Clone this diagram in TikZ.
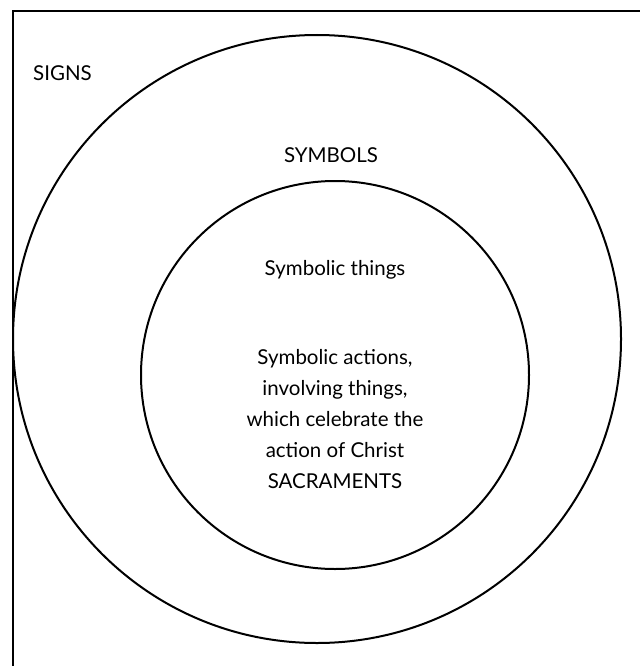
\documentclass[tikz,border=0pt]{standalone}
\usepackage{fontspec}
\setmainfont{Lato}
\begin{document}
\begin{tikzpicture}[x=1pt,y=-1pt,
  ring/.style={draw=black,line width=2pt},
  lbl/.style={font=\fontsize{20.5}{31}\selectfont,align=center,inner sep=0pt}]
\useasboundingbox (0,0) rectangle (640,666);
\draw[line width=2pt] (13,666) -- (13,11.5) -- (640,11.5);
\draw[ring] (317,339) circle (304);
\draw[ring] (335,375) circle (194);
\node[lbl,anchor=west] (signs) at (33,73) {SIGNS};
\node[lbl] (symbols) at (331,155) {SYMBOLS};
\node[lbl] (things) at (335,270) {Symbolic things};
\node[lbl] (actions) at (335,419) {Symbolic actions,\\involving things,\\which celebrate the\\action of Christ\\SACRAMENTS};
\end{tikzpicture}
\end{document}
